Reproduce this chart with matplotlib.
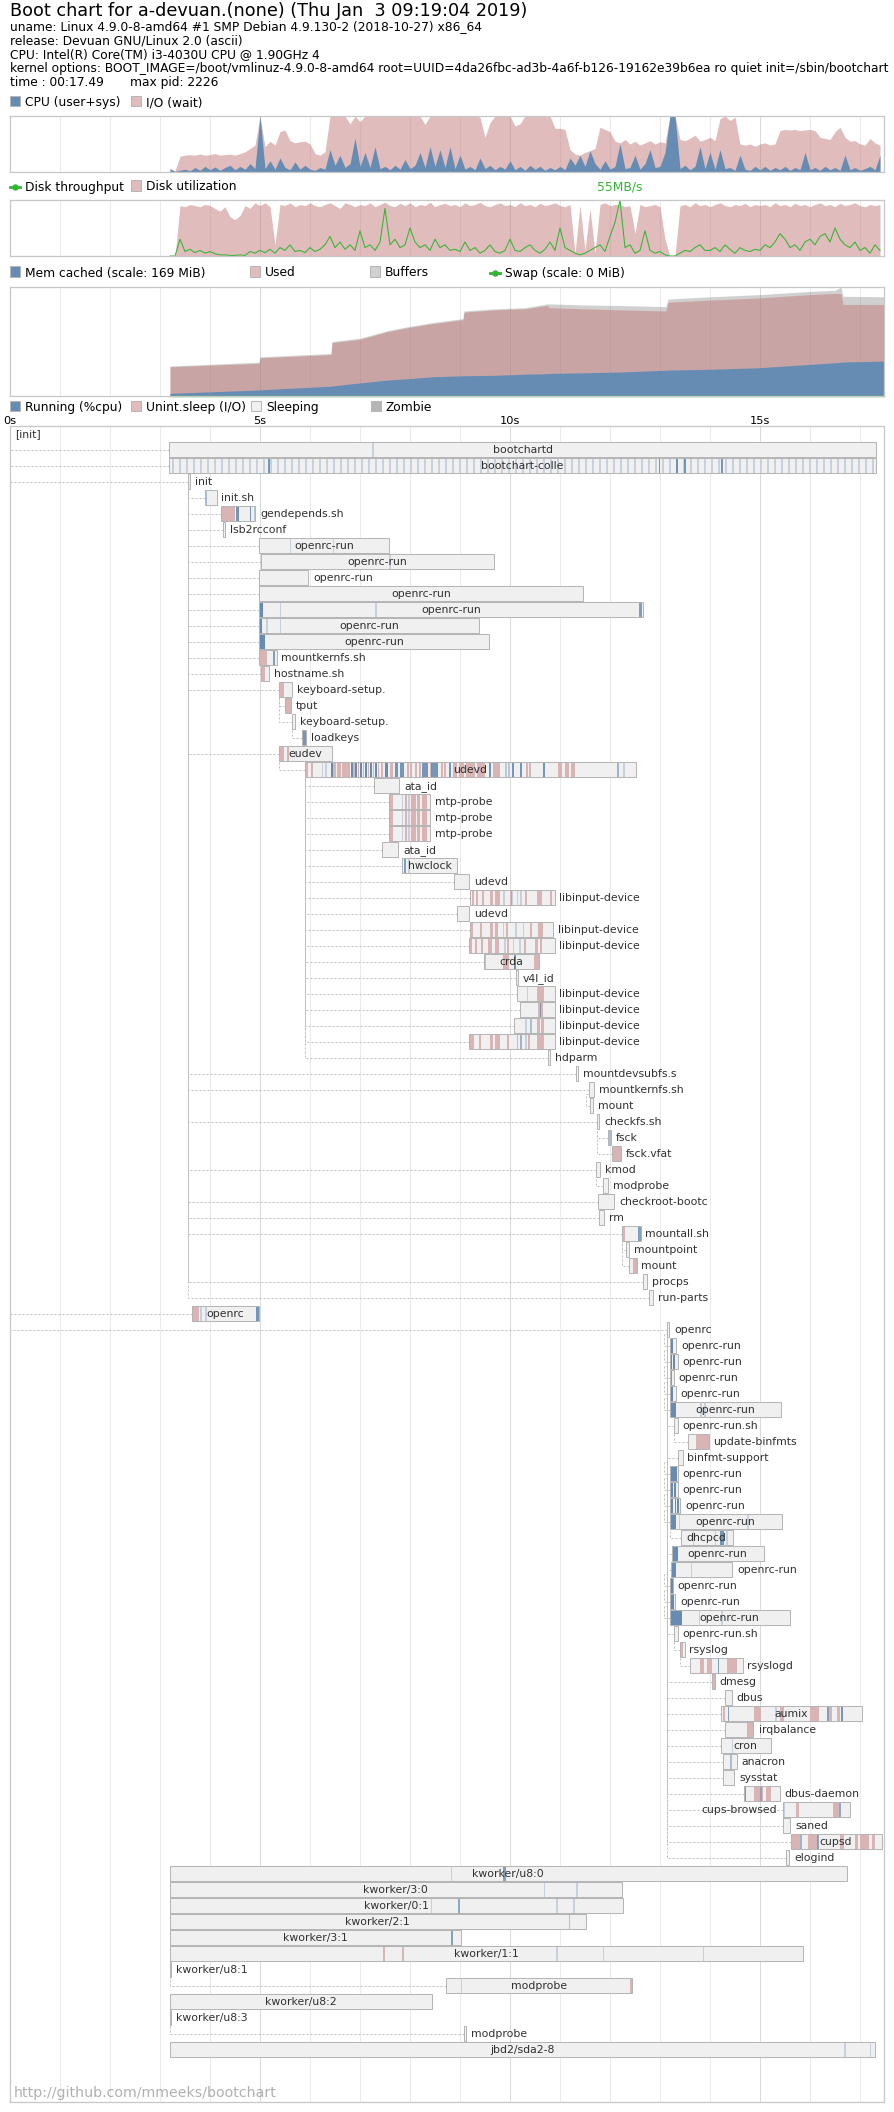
import numpy as np
import matplotlib
matplotlib.use("Agg")
import matplotlib.pyplot as plt
from matplotlib.lines import Line2D
from matplotlib.patches import Rectangle
from matplotlib.transforms import blended_transform_factory

plt.rcParams['font.family'] = ['DejaVu Sans']

W, H = 894, 2112          # output size in pixels
DURATION = 17.48          # seconds spanned by the chart boxes
PX = DURATION / 874.0     # seconds per pixel
SAMPLE = 0.035            # width of one process sample slice (s)

# pybootchart colours
CPU_COLOR = (0.40, 0.55, 0.70)
IO_COLOR = (0.76, 0.48, 0.48, 0.5)
DISK_TPUT_COLOR = (0.20, 0.71, 0.20)
MEM_BUFFERS_COLOR = (0.4, 0.4, 0.4, 0.3)
PROC_BORDER_COLOR = (0.71, 0.71, 0.71)
PROC_COLOR_S = (0.94, 0.94, 0.94)
PROC_COLOR_Z = (0.71, 0.71, 0.71)
PROC_TEXT_COLOR = (0.19, 0.19, 0.19)
BORDER_COLOR = (0.78, 0.78, 0.78)
TICK_COLOR = (0.92, 0.92, 0.92)
TICK_COLOR_BOLD = (0.86, 0.86, 0.86)
DEP_COLOR = (0.75, 0.75, 0.75)

title = "Boot chart for a-devuan.(none) (Thu Jan  3 09:19:04 2019)"
header_lines = [
    "uname: Linux 4.9.0-8-amd64 #1 SMP Debian 4.9.130-2 (2018-10-27) x86_64",
    "release: Devuan GNU/Linux 2.0 (ascii)",
    "CPU: Intel(R) Core(TM) i3-4030U CPU @ 1.90GHz 4",
    "kernel options: BOOT_IMAGE=/boot/vmlinuz-4.9.0-8-amd64 root=UUID=4da26fbc-ad3b-4a6f-b126-19162e39b6ea ro quiet init=/sbin/bootchart",
]
time_text = "time : 00:17.49"
pid_text = "max pid: 2226"
signature = "http://github.com/mmeeks/bootchart"

# system samples, every 0.1 s from 3.2 s
sample_start = 3.2
sample_step = 0.1
cpu_load = [0.06, 0.01, 0.03, 0.05, 0.02, 0.08, 0.03, 0.10,
            0.04, 0.09, 0.03, 0.08, 0.12, 0.04, 0.10, 0.05, 0.15, 0.06,
            1.00, 0.06, 0.20, 0.05, 0.25, 0.08, 0.04, 0.18, 0.05, 0.12,
            0.05, 0.03, 0.08, 0.05, 0.40, 0.12, 0.30, 0.08, 0.15, 0.60,
            0.10, 0.35, 0.08, 0.45, 0.06, 0.10, 0.04, 0.12, 0.05, 0.22,
            0.06, 0.12, 0.35, 0.08, 0.45, 0.10, 0.40, 0.08, 0.45, 0.06,
            0.30, 0.05, 0.10, 0.04, 0.25, 0.06, 0.12, 0.04, 0.10, 0.05,
            0.20, 0.04, 0.10, 0.03, 0.12, 0.05, 0.10, 0.03, 0.08, 0.04,
            0.10, 0.04, 0.25, 0.12, 0.30, 0.10, 0.38, 0.15, 0.05, 0.20,
            0.05, 0.10, 0.50, 0.06, 0.08, 0.30, 0.05, 0.15, 0.40, 0.08,
            0.10, 0.35, 1.00, 1.00, 0.06, 0.12, 0.04, 0.10, 0.45, 0.06,
            0.35, 0.05, 0.40, 0.06, 0.08, 0.03, 0.30, 0.05, 0.03, 0.10,
            0.04, 0.10, 0.03, 0.08, 0.04, 0.10, 0.03, 0.08, 0.04, 0.35,
            0.04, 0.08, 0.03, 0.10, 0.04, 0.08, 0.03, 0.30, 0.04, 0.08,
            0.03, 0.06, 0.10, 0.04, 0.30]
# cpu + io wait
io_load = [0.06, 0.02, 0.28, 0.30, 0.31, 0.30, 0.32, 0.30,
           0.31, 0.33, 0.30, 0.31, 0.32, 0.30, 0.33, 0.36, 0.42, 0.48,
           1.00, 0.45, 0.55, 0.48, 0.72, 0.75, 0.56, 0.52, 0.54, 0.55,
           0.50, 0.33, 0.30, 0.36, 1.00, 1.00, 1.00, 1.00, 0.86, 1.00,
           0.90, 1.00, 1.00, 1.00, 1.00, 1.00, 1.00, 1.00, 1.00, 1.00,
           1.00, 1.00, 1.00, 0.85, 1.00, 1.00, 1.00, 1.00, 1.00, 1.00,
           1.00, 1.00, 1.00, 1.00, 0.98, 0.62, 0.88, 1.00, 1.00, 1.00,
           1.00, 0.82, 0.86, 1.00, 1.00, 1.00, 1.00, 1.00, 1.00, 0.78,
           0.78, 0.76, 0.40, 0.32, 0.30, 0.35, 0.38, 0.42, 0.80, 0.76,
           0.72, 0.55, 0.52, 0.58, 0.50, 0.55, 0.48, 0.52, 0.56, 0.50,
           0.54, 0.52, 1.00, 1.00, 0.58, 0.56, 0.60, 0.66, 0.55, 0.58,
           0.62, 0.56, 0.95, 1.00, 0.92, 0.98, 0.50, 0.48, 0.50, 0.46,
           0.50, 0.52, 0.48, 0.50, 0.74, 0.76, 0.75, 0.76, 0.74, 0.75,
           0.76, 0.74, 0.62, 0.60, 0.58, 0.72, 0.80, 0.62, 0.55, 0.56,
           0.50, 0.48, 0.60, 0.52, 0.48]
disk_util = [0.00, 0.00, 0.90, 0.88, 0.92, 0.90, 0.88, 0.92,
             0.90, 0.85, 0.80, 0.88, 0.70, 0.65, 0.72, 0.90, 0.85, 0.95,
             0.90, 0.95, 0.88, 0.20, 0.92, 0.90, 0.95, 0.88, 0.92, 0.90,
             0.95, 0.90, 0.88, 0.92, 0.95, 0.90, 0.85, 0.95, 0.92, 0.88,
             0.92, 0.90, 0.95, 0.88, 0.92, 0.96, 0.90, 0.88, 0.94, 0.90,
             0.95, 0.88, 0.92, 0.90, 0.96, 0.88, 0.92, 0.94, 0.90, 0.92,
             0.88, 0.95, 0.90, 0.92, 0.96, 0.90, 0.88, 0.92, 0.95, 0.90,
             0.92, 0.88, 0.95, 0.90, 0.92, 0.88, 0.94, 0.90, 0.92, 0.95,
             0.90, 0.88, 0.92, 0.05, 0.90, 0.10, 0.85, 0.05, 0.92, 0.95,
             0.90, 0.92, 0.92, 0.88, 0.90, 0.40, 0.92, 0.88, 0.90, 0.92,
             0.88, 0.30, 0.00, 0.00, 0.90, 0.92, 0.88, 0.95, 0.90, 0.92,
             0.88, 0.92, 0.95, 0.90, 0.88, 0.92, 0.90, 0.94, 0.88, 0.92,
             0.90, 0.92, 0.88, 0.95, 0.90, 0.92, 0.88, 0.94, 0.90, 0.92,
             0.88, 0.92, 0.95, 0.90, 0.92, 0.88, 0.94, 0.90, 0.92, 0.95,
             0.90, 0.88, 0.92, 0.90, 0.92]
# throughput as a fraction of the peak
disk_tput = [0.00, 0.00, 0.30, 0.08, 0.12, 0.06, 0.10, 0.05,
             0.08, 0.04, 0.02, 0.02, 0.01, 0.01, 0.02, 0.01, 0.08, 0.05,
             0.10, 0.06, 0.12, 0.05, 0.15, 0.10, 0.20, 0.08, 0.10, 0.06,
             0.15, 0.08, 0.12, 0.20, 0.35, 0.15, 0.25, 0.12, 0.20, 0.10,
             0.45, 0.15, 0.20, 0.10, 0.25, 0.85, 0.20, 0.30, 0.15, 0.20,
             0.50, 0.25, 0.15, 0.20, 0.10, 0.30, 0.15, 0.20, 0.10, 0.12,
             0.08, 0.25, 0.10, 0.15, 0.05, 0.10, 0.20, 0.08, 0.05, 0.10,
             0.30, 0.10, 0.08, 0.15, 0.20, 0.10, 0.05, 0.12, 0.25, 0.10,
             0.50, 0.15, 0.10, 0.05, 0.02, 0.05, 0.10, 0.15, 0.20, 0.08,
             0.35, 0.60, 1.00, 0.15, 0.20, 0.05, 0.10, 0.45, 0.10, 0.05,
             0.08, 0.02, 0.00, 0.00, 0.05, 0.10, 0.08, 0.15, 0.20, 0.10,
             0.10, 0.15, 0.08, 0.20, 0.12, 0.05, 0.15, 0.10, 0.08, 0.12,
             0.10, 0.20, 0.15, 0.25, 0.40, 0.30, 0.15, 0.20, 0.10, 0.25,
             0.30, 0.20, 0.35, 0.40, 0.25, 0.50, 0.30, 0.20, 0.15, 0.25,
             0.10, 0.15, 0.05, 0.20, 0.10]
disk_peak_mb = 55

# memory (MiB)
mem_scale = 169
mem_time = [3.20, 4.98, 5.00, 6.42, 6.44, 7.00, 7.55, 8.00, 8.47, 9.06, 9.08, 9.70, 10.30,
            10.74, 10.80, 11.50, 12.20, 13.12, 13.16, 14.00, 15.00, 16.00, 16.50, 16.62, 16.66, 17.48]
mem_total = [46.5, 52.4, 60.8, 65.9, 84.5, 89.6, 101.4, 108.2, 114.1, 120.0, 131.8, 135.2, 136.9,
             142.8, 142.8, 141.1, 140.3, 138.6, 150.4, 153.8, 157.2, 162.2, 163.9, 169.0, 154.6, 153.8]
mem_used = [45.3, 50.7, 59.2, 64.2, 82.8, 87.9, 99.7, 106.5, 112.4, 118.3, 130.1, 133.5, 135.2,
            140.3, 136.9, 135.2, 133.5, 131.8, 145.3, 148.7, 152.1, 157.2, 158.9, 158.9, 142.0, 142.0]
mem_cached = [4.1, 9.3, 9.5, 15.2, 15.5, 20.3, 24.7, 27.0, 29.9, 31.3, 31.4, 32.1, 33.8,
              34.6, 35.0, 36.0, 37.2, 39.9, 40.2, 41.4, 43.9, 49.0, 51.5, 52.4, 52.7, 54.1]
mem_swap = [0.0] * len(mem_time)

# process tree
proc_names = [
    '[init]', 'bootchartd', 'bootchart-colle', 'init', 'init.sh', 'gendepends.sh', 'lsb2rcconf',
    'openrc-run', 'openrc-run', 'openrc-run', 'openrc-run', 'openrc-run', 'openrc-run', 'openrc-run',
    'mountkernfs.sh', 'hostname.sh', 'keyboard-setup.', 'tput', 'keyboard-setup.', 'loadkeys', 'eudev', 'udevd',
    'ata_id', 'mtp-probe', 'mtp-probe', 'mtp-probe', 'ata_id', 'hwclock', 'udevd', 'libinput-device', 'udevd',
    'libinput-device', 'libinput-device', 'crda', 'v4l_id', 'libinput-device', 'libinput-device',
    'libinput-device', 'libinput-device', 'hdparm',
    'mountdevsubfs.s', 'mountkernfs.sh', 'mount', 'checkfs.sh', 'fsck', 'fsck.vfat', 'kmod', 'modprobe',
    'checkroot-bootc', 'rm',
    'mountall.sh', 'mountpoint', 'mount', 'procps', 'run-parts', 'openrc', 'openrc',
    'openrc-run', 'openrc-run', 'openrc-run', 'openrc-run', 'openrc-run', 'openrc-run.sh', 'update-binfmts',
    'binfmt-support',
    'openrc-run', 'openrc-run', 'openrc-run', 'openrc-run', 'dhcpcd', 'openrc-run', 'openrc-run', 'openrc-run',
    'openrc-run', 'openrc-run',
    'openrc-run.sh', 'rsyslog', 'rsyslogd', 'dmesg', 'dbus', 'aumix', 'irqbalance', 'cron', 'anacron', 'sysstat',
    'dbus-daemon', 'cups-browsed', 'saned', 'cupsd', 'elogind',
    'kworker/u8:0', 'kworker/3:0', 'kworker/0:1', 'kworker/2:1', 'kworker/3:1', 'kworker/1:1',
    'kworker/u8:1', 'modprobe', 'kworker/u8:2', 'kworker/u8:3', 'modprobe', 'jbd2/sda2-8',
]
proc_start = [
    0.0, 3.18, 3.18, 3.55, 3.90, 4.22, 4.26,
    4.98, 5.01, 4.98, 4.98, 4.98, 4.98, 4.98,
    4.98, 5.02, 5.38, 5.50, 5.64, 5.84, 5.38, 5.90,
    7.27, 7.57, 7.57, 7.57, 7.44, 7.84, 8.88, 9.19, 8.94,
    9.20, 9.17, 9.47, 10.12, 10.13, 10.19, 10.07, 9.17, 10.76,
    11.32, 11.58, 11.60, 11.74, 11.95, 12.04, 11.72, 11.86, 11.76, 11.78,
    12.23, 12.32, 12.37, 12.66, 12.78, 3.63, 13.14,
    13.19, 13.20, 13.20, 13.19, 13.19, 13.27, 13.55, 13.36,
    13.19, 13.20, 13.20, 13.19, 13.41, 13.23, 13.21, 13.19, 13.20, 13.20,
    13.28, 13.39, 13.59, 14.03, 14.30, 14.21, 14.30, 14.21, 14.25, 14.25,
    14.67, 15.45, 15.45, 15.61, 15.51,
    3.19, 3.19, 3.19, 3.19, 3.19, 3.19,
    3.19, 8.72, 3.19, 3.19, 9.07, 3.19,
]
proc_end = [
    0.0, 17.32, 17.32, 3.60, 4.13, 4.90, 4.30,
    7.58, 9.68, 5.96, 11.46, 12.66, 9.38, 9.58,
    5.33, 5.18, 5.64, 5.62, 5.70, 5.92, 6.44, 12.51,
    7.78, 8.39, 8.39, 8.39, 7.76, 8.94, 9.18, 10.89, 9.18,
    10.86, 10.89, 10.57, 10.16, 10.89, 10.89, 10.89, 10.89, 10.80,
    11.36, 11.68, 11.66, 11.78, 12.01, 12.22, 11.80, 11.96, 12.08, 11.88,
    12.61, 12.38, 12.53, 12.74, 12.86, 4.97, 13.18,
    13.32, 13.35, 13.27, 13.31, 15.41, 13.35, 13.97, 13.45,
    13.35, 13.35, 13.40, 15.43, 14.45, 15.08, 14.45, 13.25, 13.30, 15.59,
    13.35, 13.49, 14.65, 14.09, 14.43, 17.03, 14.87, 15.22, 14.53, 14.48,
    15.39, 16.80, 15.60, 17.43, 15.58,
    16.73, 12.23, 12.26, 11.52, 9.01, 15.85,
    3.22, 12.43, 8.44, 3.22, 9.12, 17.30,
]
proc_parent = [
    None, 0, 0, 0, 3, 3, 3,
    3, 3, 3, 3, 3, 3, 3,
    3, 3, 3, 16, 16, 18, 3, 20,
    21, 21, 21, 21, 21, 21, 21, 21, 21,
    21, 21, 21, 21, 21, 21, 21, 21, 21,
    3, 3, 41, 3, 43, 43, 3, 46, 3, 3,
    3, 50, 50, 3, 3, 0, 0,
    56, 56, 56, 56, 56, 56, 62, 56,
    56, 56, 56, 56, 68, 56, 56, 56, 56, 56,
    56, 75, 76, 56, 56, 56, 56, 56, 56, 56,
    56, 56, 56, 56, 56,
    None, None, None, None, None, None,
    None, 96, None, None, 99, None,
]

collector_wakeups = [
    3.24, 3.38, 3.52, 3.66, 3.80, 3.94, 4.08, 4.22, 4.36, 4.50,
    4.64, 4.78, 4.92, 5.06, 5.20, 5.34, 5.48, 5.62, 5.76, 5.90,
    6.04, 6.18, 6.32, 6.46, 6.60, 6.74, 6.88, 7.02, 7.16, 7.30,
    7.44, 7.58, 7.72, 7.86, 8.00, 8.14, 8.28, 8.42, 8.56, 8.70,
    8.84, 8.98, 9.12, 9.26, 9.40, 9.54, 9.68, 9.82, 9.96, 10.10,
    10.24, 10.38, 10.52, 10.66, 10.80, 10.94, 11.08, 11.22, 11.36, 11.50,
    11.64, 11.78, 11.92, 12.06, 12.20, 12.34, 12.48, 12.62, 12.76, 12.90,
    13.04, 13.18, 13.32, 13.46, 13.60, 13.74, 13.88, 14.02, 14.16, 14.30,
    14.44, 14.58, 14.72, 14.86, 15.00, 15.14, 15.28, 15.42, 15.56, 15.70,
    15.84, 15.98, 16.12, 16.26, 16.40, 16.54, 16.68, 16.82, 16.96, 17.10, 17.24,
]

mtp_io = [(7.57, 7.65), 7.90, (8.02, 8.12), (8.14, 8.20), (8.24, 8.33)]
# uninterruptible sleep slices: t or (t0, t1)
proc_io = {
    5: [(4.22, 4.50)], 14: [(4.99, 5.14)], 15: [(5.02, 5.10)], 16: [(5.39, 5.47)], 17: [(5.50, 5.62)],
    20: [(5.39, 5.47), (5.53, 5.58)],
    21: [5.92, 6.02, (6.46, 6.52), (6.54, 6.62), (6.64, 6.80), 6.86, 6.95, 7.05, 7.15, 7.25, 7.35, 7.42,
         (7.60, 7.66), 7.94, 8.00, 8.10, 8.18, 8.40, 8.62, 8.68, (8.86, 8.94), (8.98, 9.08), (9.12, 9.30),
         (9.34, 9.50), (9.66, 9.80), 10.32, 10.38, (10.96, 11.04), (11.10, 11.18), (11.22, 11.30)],
    23: mtp_io, 24: mtp_io, 25: mtp_io,
    29: [(9.23, 9.28), 9.32, 9.45, (9.59, 9.66), (9.70, 9.80), 10.00, 10.30, (10.53, 10.63), 10.80],
    31: [(9.21, 9.26), 9.40, (9.59, 9.66), (9.69, 9.75), 9.92, 10.40, (10.55, 10.66)],
    32: [(9.17, 9.24), 9.30, 9.42, (9.56, 9.64), (9.70, 9.78), 9.95, 10.28, (10.50, 10.56), (10.59, 10.64)],
    33: [(9.48, 9.52), (9.87, 9.97), (10.47, 10.57)],
    35: [(10.53, 10.67)], 36: [(10.55, 10.65)], 37: [(10.53, 10.60), (10.62, 10.67)],
    38: [(9.18, 9.28), 9.38, (9.59, 9.66), (9.70, 9.80), 9.95, 10.13, 10.36, (10.53, 10.67)],
    45: [(12.04, 12.22)], 50: [(12.23, 12.30)], 52: [(12.45, 12.53)], 55: [(3.63, 3.77)],
    63: [(13.72, 13.97)], 76: [(13.40, 13.46)],
    77: [(13.79, 13.87), (13.93, 14.03), (14.33, 14.53)], 78: [(14.03, 14.09)],
    80: [(14.25, 14.30), (14.88, 15.01), (15.39, 15.47), (15.99, 16.18), (16.37, 16.45), (16.54, 16.60)],
    81: [(14.74, 14.87)], 85: [(14.88, 15.05), (15.12, 15.22)], 86: [(15.72, 15.77), (16.46, 16.58)],
    88: [(15.63, 15.80), (15.95, 16.15), (16.60, 16.67), (16.90, 16.97), (17.00, 17.17), (17.23, 17.30)],
    93: [11.17], 95: [7.46, 7.84], 97: [12.40],
}
mtp_run = [(7.83, 0.3), (7.96, 0.3)]
# running slices: (t, cpu) or (t0, t1, cpu)
proc_run = {
    1: [(7.24, 0.3)],
    2: [(t, 0.3) for t in collector_wakeups] + [(5.16, 0.9), (12.97, 0.9), (13.32, 0.9), (13.48, 0.9), (14.22, 0.9)],
    4: [(3.91, 0.5)], 5: [(4.51, 4.57, 0.9), (4.79, 0.9), (4.88, 0.4)],
    7: [(5.59, 0.3), (6.45, 0.3)], 8: [(7.58, 0.3)],
    11: [(4.99, 5.05, 1.0), (5.39, 0.3), (7.30, 0.3), (12.57, 12.63, 0.8)],
    12: [(4.99, 5.04, 1.0), (5.12, 0.3), (5.39, 0.3)], 13: [(4.99, 5.10, 1.0)],
    14: [(5.25, 5.30, 0.8)], 19: [(5.84, 5.92, 0.9)],
    21: [(6.23, 0.3), (6.30, 0.3), (6.42, 6.46, 1.0), (6.82, 1.0), (6.90, 1.0), (7.00, 1.0), (7.10, 1.0),
         (7.20, 1.0), (7.30, 1.0), (7.50, 7.56, 1.0), (7.70, 7.76, 0.9), (7.80, 7.88, 0.9), (8.23, 8.36, 0.9),
         (8.42, 8.55, 0.9), (8.78, 0.9), (9.58, 0.9), (9.90, 0.4), (9.96, 0.4), (10.04, 0.9), (10.20, 0.9),
         (10.66, 0.9), (12.13, 12.19, 0.6), (12.26, 0.3)],
    23: mtp_run, 24: mtp_run, 25: mtp_run,
    27: [(7.88, 7.91, 0.8), (7.96, 0.3)],
    29: [(9.87, 0.3), (10.03, 0.3), (10.13, 0.3), (10.20, 0.3)],
    31: [(9.85, 0.3), (10.10, 0.3), (10.25, 0.3)], 32: [(9.88, 0.3), (10.05, 0.3), (10.18, 0.3)],
    33: [(10.07, 10.11, 0.9)], 35: [(10.33, 0.3)], 36: [(10.59, 0.8)], 37: [(10.30, 0.3), (10.40, 0.5)],
    38: [(10.20, 0.6), (10.30, 0.3)], 44: [(11.95, 12.01, 0.5)], 50: [(12.56, 12.61, 0.8)],
    55: [(3.80, 0.3), (3.90, 0.3), (4.92, 4.97, 0.9)],
    57: [(13.19, 13.26, 1.0)], 58: [(13.20, 13.24, 1.0), (13.26, 13.30, 1.0)], 59: [(13.20, 13.23, 0.8)],
    60: [(13.19, 13.25, 1.0)], 61: [(13.19, 13.32, 1.0), (13.80, 0.3), (13.88, 0.3)],
    65: [(13.19, 13.34, 1.0)], 66: [(13.21, 13.25, 1.0), (13.27, 13.31, 1.0)],
    67: [(13.21, 13.26, 1.0), (13.29, 13.31, 1.0), (13.34, 13.37, 1.0)],
    68: [(13.19, 13.32, 1.0), (13.37, 0.3), (14.74, 0.3)],
    69: [(13.65, 0.3), (14.09, 0.3), (14.19, 14.27, 0.9), (14.32, 0.3)],
    70: [(13.23, 13.36, 1.0)], 71: [(13.21, 13.32, 1.0), (13.61, 0.3)],
    72: [(13.19, 13.25, 1.0)], 73: [(13.20, 13.28, 1.0)],
    74: [(13.20, 13.43, 1.0), (13.77, 0.3), (14.22, 0.3)],
    77: [(14.15, 0.8)], 80: [(14.35, 0.8), (15.30, 0.3), (16.34, 0.8), (16.62, 16.66, 0.9)],
    82: [(14.43, 0.3)], 83: [(14.40, 0.5)], 85: [(14.68, 0.9), (15.00, 0.5)],
    86: [(15.46, 0.3), (16.58, 0.7)], 88: [(15.80, 0.6), (16.15, 0.7)],
    90: [(8.81, 0.3), (9.87, 9.91, 0.8)], 91: [(10.67, 0.3), (11.32, 0.3)],
    92: [(8.41, 0.3), (8.96, 0.7), (10.92, 0.3), (11.26, 0.3)], 94: [(8.81, 8.86, 0.8)],
    95: [(10.92, 0.3), (11.85, 0.3), (13.85, 0.3)], 97: [(9.01, 0.3)], 101: [(16.68, 0.3), (17.19, 0.3)],
}

fig = plt.figure(figsize=(W / 100, H / 100), dpi=100)
renderer = fig.canvas.get_renderer()


def fy(y):
    return 1 - y / H


def fit_size(s, width_px):
    t = fig.text(0, 0, s, fontsize=10)
    w = t.get_window_extent(renderer).width
    t.remove()
    return 10 * width_px / w


TITLE_FS = fit_size(title, 517)
TEXT_FS = fit_size(header_lines[0], 474)
AXIS_FS = TEXT_FS * 0.92
PROC_FS = fit_size('libinput-device', 81)
SIG_FS = fit_size(signature, 262)

# header
fig.text(10 / W, fy(16), title, fontsize=TITLE_FS, va='baseline')
for line, base in zip(header_lines, [30, 44, 58, 72]):
    fig.text(10 / W, fy(base), line, fontsize=TEXT_FS, va='baseline')
fig.text(10 / W, fy(86), time_text, fontsize=TEXT_FS, va='baseline')
fig.text(130 / W, fy(86), pid_text, fontsize=TEXT_FS, va='baseline')


def legend_box(x, y, label, color):
    fig.patches.append(Rectangle((x / W, fy(y)), 10 / W, 10 / H, transform=fig.transFigure,
                                 facecolor=color, edgecolor=PROC_BORDER_COLOR, lw=0.7))
    fig.text((x + 15) / W, fy(y), label, fontsize=TEXT_FS, va='baseline')


def legend_line(x, y, label, color):
    fig.add_artist(Line2D([x / W, (x + 10) / W], [fy(y - 4)] * 2, color=color, lw=2.0,
                          transform=fig.transFigure))
    fig.add_artist(Line2D([(x + 5) / W], [fy(y - 4)], marker='o', ms=3.6, color=color, lw=0,
                          transform=fig.transFigure))
    fig.text((x + 15) / W, fy(y), label, fontsize=TEXT_FS, va='baseline')


def chart_axes(y0, y1, ymax=1.0):
    ax = fig.add_axes([10 / W, fy(y1), 874 / W, (y1 - y0) / H])
    ax.set_xlim(0, DURATION)
    ax.set_ylim(0, ymax)
    ax.set_xticks([])
    ax.set_yticks([])
    for sp in ax.spines.values():
        sp.set_color(BORDER_COLOR)
        sp.set_linewidth(0.9)
    for s in range(1, 18):
        ax.axvline(s, color=TICK_COLOR_BOLD if s % 5 == 0 else TICK_COLOR, lw=0.75, zorder=0)
    return ax


sample_t = sample_start + sample_step * np.arange(len(cpu_load))

# CPU chart
legend_box(10, 106, 'CPU (user+sys)', CPU_COLOR)
legend_box(131, 106, 'I/O (wait)', IO_COLOR)
ax_cpu = chart_axes(116, 172)
ax_cpu.fill_between(sample_t, io_load, color=IO_COLOR, lw=0)
ax_cpu.fill_between(sample_t, cpu_load, color=CPU_COLOR, lw=0)

# disk chart
legend_line(10, 190.5, 'Disk throughput', DISK_TPUT_COLOR)
legend_box(131, 190.5, 'Disk utilization', IO_COLOR)
ax_disk = chart_axes(200, 256)
ax_disk.fill_between(sample_t, disk_util, color=IO_COLOR, lw=0)
ax_disk.plot(sample_t, disk_tput, color=DISK_TPUT_COLOR, lw=0.75)
peak_t = sample_t[int(np.argmax(disk_tput))]
ax_disk.text(peak_t, fy(190.5), '%dMB/s' % disk_peak_mb, color=DISK_TPUT_COLOR, fontsize=TEXT_FS,
             ha='center', va='baseline', transform=blended_transform_factory(ax_disk.transData, fig.transFigure))

# memory chart
legend_box(10, 276.5, 'Mem cached (scale: %d MiB)' % mem_scale, CPU_COLOR)
legend_box(250, 276.5, 'Used', IO_COLOR)
legend_box(370, 276.5, 'Buffers', MEM_BUFFERS_COLOR)
legend_line(490, 276.5, 'Swap (scale: 0 MiB)', DISK_TPUT_COLOR)
ax_mem = chart_axes(287, 396, mem_scale)
ax_mem.fill_between(mem_time, mem_total, color=MEM_BUFFERS_COLOR, lw=0)
ax_mem.fill_between(mem_time, mem_used, color=IO_COLOR, lw=0)
ax_mem.fill_between(mem_time, mem_cached, color=CPU_COLOR, lw=0)
ax_mem.plot(mem_time, mem_swap, color=DISK_TPUT_COLOR, lw=1.0, clip_on=False)

# process chart
legend_box(10, 411, 'Running (%cpu)', CPU_COLOR)
legend_box(131, 411, 'Unint.sleep (I/O)', IO_COLOR)
legend_box(251, 411, 'Sleeping', PROC_COLOR_S)
legend_box(371, 411, 'Zombie', PROC_COLOR_Z)

ROW = 16.0
ax_p = chart_axes(426, 2102)
ax_p.set_ylim((2102 - 426) / ROW, 0)
for s in [0, 5, 10, 15]:
    ax_p.text(s, -2.0 / ROW, '%ds' % s, fontsize=AXIS_FS, ha='center', va='baseline', clip_on=False)

BAR_H = 15.0 / ROW


def io_spans(entries):
    for e in entries:
        yield e if isinstance(e, tuple) else (e, e + SAMPLE)


def run_spans(entries):
    for e in entries:
        yield (e[0], e[0] + SAMPLE, e[1]) if len(e) == 2 else e


for k, name in enumerate(proc_names):
    x0, x1 = proc_start[k], proc_end[k]
    yc = k + BAR_H / 2
    p = proc_parent[k]
    if p is not None:
        px = proc_start[p]
        if abs(px - x0) < 3 * PX:
            xs = [x0, px - 3 * PX, px - 3 * PX, px]
            ys = [yc, yc, k - 0.25, k - 0.25]
        else:
            xs = [x0, px, px]
            ys = [yc, yc, p + BAR_H]
        ax_p.plot(xs, ys, color=DEP_COLOR, lw=0.72, ls=(0, (2, 2)), zorder=1)
    w = max(x1 - x0, PX)
    if k > 0:
        ax_p.barh(yc, w, left=x0, height=BAR_H, color=PROC_COLOR_S, lw=0, zorder=2)
        for a, b in io_spans(proc_io.get(k, [])):
            a, b = max(a, x0), min(b, x0 + w)
            if b > a:
                ax_p.barh(yc, b - a, left=a, height=BAR_H, color=IO_COLOR, lw=0, zorder=3)
        for a, b, c in run_spans(proc_run.get(k, [])):
            a, b = max(a, x0), min(b, x0 + w)
            if b > a:
                ax_p.barh(yc, b - a, left=a, height=BAR_H, color=CPU_COLOR + (c,), lw=0, zorder=3)
        ax_p.barh(yc, w, left=x0, height=BAR_H, fill=False, edgecolor=PROC_BORDER_COLOR, lw=0.72, zorder=4)
    # label placement as in pybootchart
    txt = ax_p.text(x0, k + 11.0 / ROW, name, fontsize=PROC_FS, color=PROC_TEXT_COLOR,
                    ha='left', va='baseline', zorder=5)
    lw_s = txt.get_window_extent(renderer).width * PX
    bw = x1 - x0
    lx = x0 + bw / 2 - lw_s / 2
    if lw_s + 10 * PX > bw:
        lx = x1 + 5 * PX
    if lx + lw_s > DURATION:
        lx = x0 - lw_s - 5 * PX
    txt.set_x(lx)

fig.text(14 / W, fy(2097), signature, fontsize=SIG_FS, color=(0, 0, 0, 0.31), va='baseline')

fig.savefig('out.png', dpi=100)
